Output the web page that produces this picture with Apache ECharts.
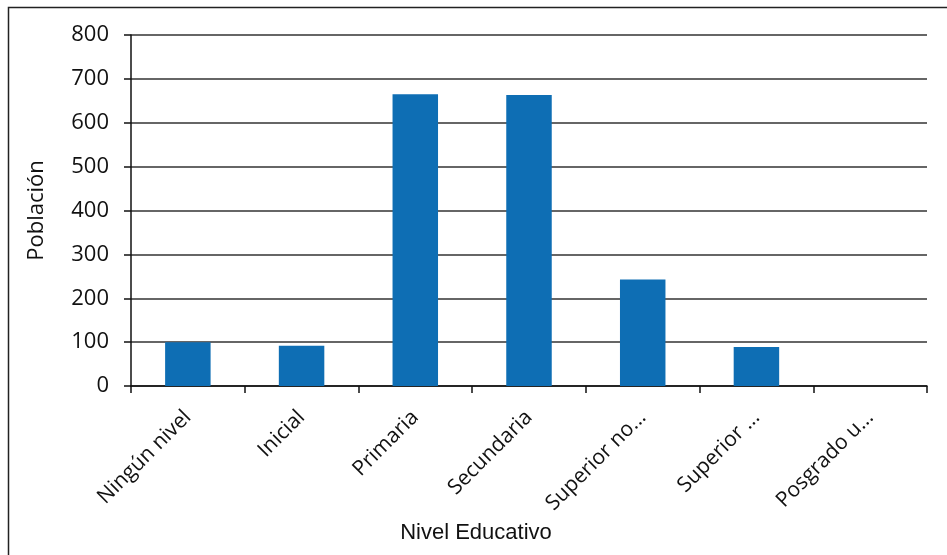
<!DOCTYPE html>
<html>
<head>
<meta charset="utf-8">
<script src="https://cdn.jsdelivr.net/npm/echarts@6/dist/echarts.min.js"></script>
<style>
  html, body { margin: 0; padding: 0; background: #fff; }
  #chart { width: 947px; height: 555px; }
</style>
</head>
<body>
<div id="chart"></div>
<script>
// Education levels and population per level
const categories = ['Ningún nivel', 'Inicial', 'Primaria', 'Secundaria', 'Superior no...', 'Superior ...', 'Posgrado u...'];
const population = [100, 92, 665, 663, 243, 89, 0];
const yTicks = { min: 0, max: 800, interval: 100 };

const chart = echarts.init(document.getElementById('chart'), null, { renderer: 'canvas' });

chart.setOption({
  backgroundColor: '#ffffff',
  animation: false,
  graphic: [{
    type: 'rect',
    shape: { x: 8.5, y: 7.5, width: 960, height: 560 },
    style: { fill: 'none', stroke: '#222', lineWidth: 1.5 },
    z: 100
  }],
  grid: { left: 131, right: 20, top: 35, bottom: 169, containLabel: false },
  xAxis: {
    type: 'category',
    data: categories,
    name: 'Nivel Educativo',
    nameLocation: 'middle',
    nameGap: 136,
    nameTextStyle: { fontFamily: 'Liberation Sans', fontSize: 22, color: '#111', padding: [0, 106, 0, 0] },
    axisLine: { lineStyle: { color: '#111', width: 1.5 } },
    axisTick: { show: true, length: 7, alignWithLabel: false, lineStyle: { color: '#111', width: 1.5 } },
    axisLabel: {
      rotate: 45,
      interval: 0,
      margin: 28,
      fontFamily: 'Open Sans',
      fontSize: 21,
      color: '#111'
    }
  },
  yAxis: {
    type: 'value',
    min: yTicks.min,
    max: yTicks.max,
    interval: yTicks.interval,
    name: 'Población',
    nameLocation: 'middle',
    nameGap: 83,
    nameRotate: 90,
    nameTextStyle: { fontFamily: 'Open Sans', fontSize: 22, color: '#111' },
    axisLine: { show: true, lineStyle: { color: '#111', width: 1.5 } },
    axisTick: { show: true, length: 7, lineStyle: { color: '#111', width: 1.5 } },
    splitLine: { show: true, lineStyle: { color: '#333', width: 1.5 } },
    axisLabel: { margin: 22, fontFamily: 'Open Sans', fontSize: 22, color: '#111' }
  },
  series: [{
    type: 'bar',
    data: population,
    barCategoryGap: '60%',
    itemStyle: { color: '#0E6EB4' }
  }]
});
</script>
</body>
</html>
